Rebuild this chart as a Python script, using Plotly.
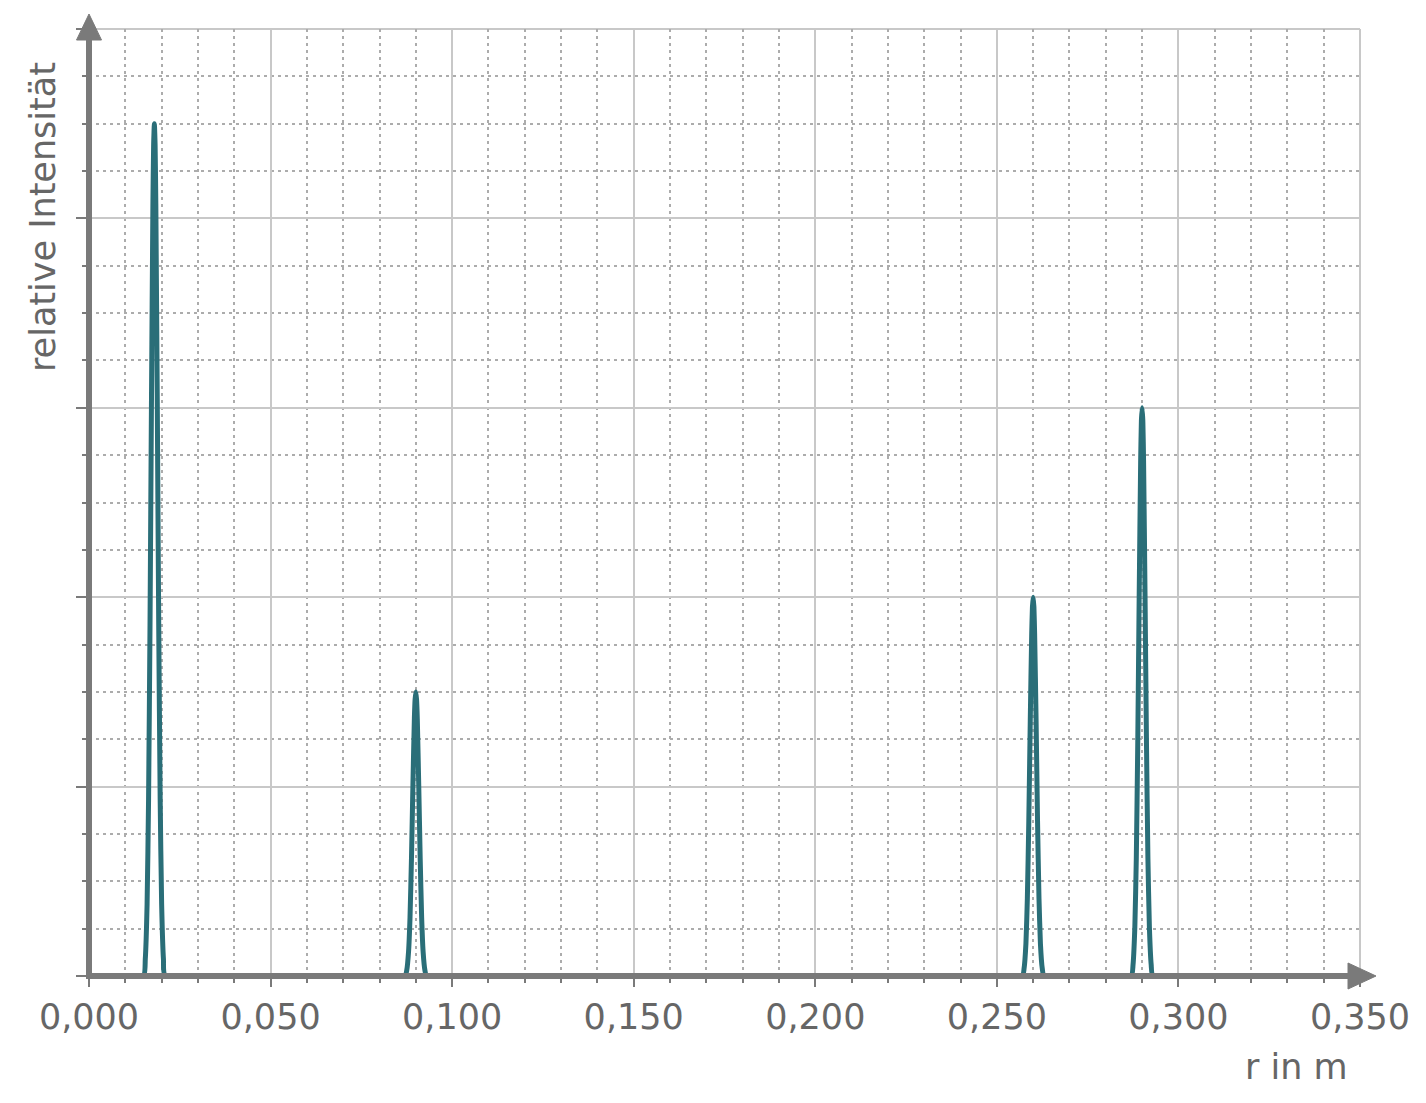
import plotly.graph_objects as go

# ---- data ----
peak1_x = [0.0150, 0.0155, 0.0160, 0.0164, 0.0168, 0.0172, 0.0176, 0.0178, 0.0180,
           0.0182, 0.0184, 0.0188, 0.0192, 0.0196, 0.0200, 0.0205, 0.0210]
peak1_y = [0.0, 0.09, 0.38, 0.93, 1.85, 3.03, 4.08, 4.39, 4.50,
           4.39, 4.08, 3.03, 1.85, 0.93, 0.38, 0.09, 0.0]

peak2_x = [0.0870, 0.0875, 0.0880, 0.0884, 0.0888, 0.0892, 0.0896, 0.0898, 0.0900,
           0.0902, 0.0904, 0.0908, 0.0912, 0.0916, 0.0920, 0.0925, 0.0930]
peak2_y = [0.0, 0.03, 0.13, 0.31, 0.62, 1.01, 1.36, 1.46, 1.50,
           1.46, 1.36, 1.01, 0.62, 0.31, 0.13, 0.03, 0.0]

peak3_x = [0.2570, 0.2575, 0.2580, 0.2584, 0.2588, 0.2592, 0.2596, 0.2598, 0.2600,
           0.2602, 0.2604, 0.2608, 0.2612, 0.2616, 0.2620, 0.2625, 0.2630]
peak3_y = [0.0, 0.04, 0.17, 0.41, 0.82, 1.35, 1.81, 1.95, 2.00,
           1.95, 1.81, 1.35, 0.82, 0.41, 0.17, 0.04, 0.0]

peak4_x = [0.2870, 0.2875, 0.2880, 0.2884, 0.2888, 0.2892, 0.2896, 0.2898, 0.2900,
           0.2902, 0.2904, 0.2908, 0.2912, 0.2916, 0.2920, 0.2925, 0.2930]
peak4_y = [0.0, 0.06, 0.26, 0.62, 1.23, 2.02, 2.72, 2.93, 3.00,
           2.93, 2.72, 2.02, 1.23, 0.62, 0.26, 0.06, 0.0]

x_start = [0.0]
x_end = [0.35]

x_tick_vals = [0.0, 0.05, 0.10, 0.15, 0.20, 0.25, 0.30, 0.35]
x_tick_text = ["0,000", "0,050", "0,100", "0,150", "0,200", "0,250", "0,300", "0,350"]

x_title = "r in m"
y_title = "relative Intensität"

# ---- build series ----
xs = x_start + peak1_x + peak2_x + peak3_x + peak4_x + x_end
ys = [0.0] + peak1_y + peak2_y + peak3_y + peak4_y + [0.0]

LINE = "#2a6e78"
AXIS = "#7a7a7a"
TEXT = "#666666"
MAJOR = "#c8c8c8"
MINOR = "#acacac"
FONT = "DejaVu Sans"
FS = 35

fig = go.Figure()
fig.add_trace(go.Scatter(x=xs, y=ys, mode="lines",
                         line=dict(color=LINE, width=5, shape="spline", smoothing=0.5),
                         hoverinfo="skip", showlegend=False))

# page has an 8px body margin; coordinates below are viewport pixels
OFF = 8
W, H = 1426 - OFF, 1103 - OFF
PLOT_L, PLOT_R, PLOT_T, PLOT_B = 89, 1360, 29, 976  # viewport pixels
L = PLOT_L - OFF
T = PLOT_T - OFF
R = W - (PLOT_R - OFF)
B = H - (PLOT_B - OFF)
pw, ph = PLOT_R - PLOT_L, PLOT_B - PLOT_T

def px_x(p):
    return (p - PLOT_L) / pw

def px_y(p):
    return (PLOT_B - p) / ph

fig.update_layout(
    width=W, height=H,
    margin=dict(l=L, r=R, t=T, b=B),
    paper_bgcolor="white", plot_bgcolor="white",
    separators=",.",
    font=dict(family=FONT, color=TEXT, size=FS),
    showlegend=False,
)

fig.update_xaxes(
    range=[0, 0.35], tickvals=x_tick_vals, ticktext=x_tick_text,
    showgrid=True, gridcolor=MAJOR, gridwidth=2,
    zeroline=False, showline=False,
    ticks="outside", ticklen=10, tickwidth=2, tickcolor=AXIS,
    tickfont=dict(family=FONT, size=FS, color=TEXT),
    ticklabelstandoff=0,
    minor=dict(dtick=0.01, showgrid=True, gridcolor=MINOR, gridwidth=2,
               griddash="3px,4px", ticks="outside", ticklen=6, tickwidth=2,
               tickcolor=AXIS),
)
fig.update_yaxes(
    range=[0, 5], dtick=1, showticklabels=False,
    showgrid=True, gridcolor=MAJOR, gridwidth=2,
    zeroline=False, showline=False,
    ticks="outside", ticklen=12, tickwidth=2, tickcolor=AXIS,
    minor=dict(dtick=0.25, showgrid=True, gridcolor=MINOR, gridwidth=2,
               griddash="3px,4px", ticks="outside", ticklen=6, tickwidth=2,
               tickcolor=AXIS),
)

# top and right grid borders
fig.add_shape(type="line", xref="paper", yref="paper", x0=0, y0=1, x1=1, y1=1,
              layer="below", line=dict(color=MAJOR, width=2))
fig.add_shape(type="line", xref="paper", yref="paper", x0=1, y0=0, x1=1, y1=1,
              layer="below", line=dict(color=MAJOR, width=2))

# axis lines with arrowheads
x_arrow_base, x_arrow_tip = px_x(1348), px_x(1376)
y_arrow_base, y_arrow_tip = px_y(40), px_y(14)
hx = 13 / ph
hy = 12.5 / pw
fig.add_shape(type="line", xref="paper", yref="paper",
              x0=px_x(86), y0=0, x1=x_arrow_base, y1=0,
              line=dict(color=AXIS, width=6))
fig.add_shape(type="line", xref="paper", yref="paper",
              x0=0, y0=px_y(979), x1=0, y1=y_arrow_base,
              line=dict(color=AXIS, width=6))
fig.add_shape(type="path", xref="paper", yref="paper",
              path=f"M {x_arrow_base},{hx} L {x_arrow_tip},0 L {x_arrow_base},{-hx} Z",
              fillcolor=AXIS, line=dict(color=AXIS, width=1))
fig.add_shape(type="path", xref="paper", yref="paper",
              path=f"M {-hy},{y_arrow_base} L 0,{y_arrow_tip} L {hy},{y_arrow_base} Z",
              fillcolor=AXIS, line=dict(color=AXIS, width=1))

fig.add_annotation(text=x_title, xref="paper", yref="paper",
                   x=px_x(1350), y=px_y(1067), xanchor="right", yanchor="middle",
                   showarrow=False, font=dict(family=FONT, size=FS, color=TEXT))
fig.add_annotation(text=y_title, xref="paper", yref="paper",
                   x=px_x(43), y=px_y(60), xanchor="center", yanchor="top",
                   textangle=-90, showarrow=False,
                   font=dict(family=FONT, size=FS, color=TEXT))

fig.write_html("out.html")
